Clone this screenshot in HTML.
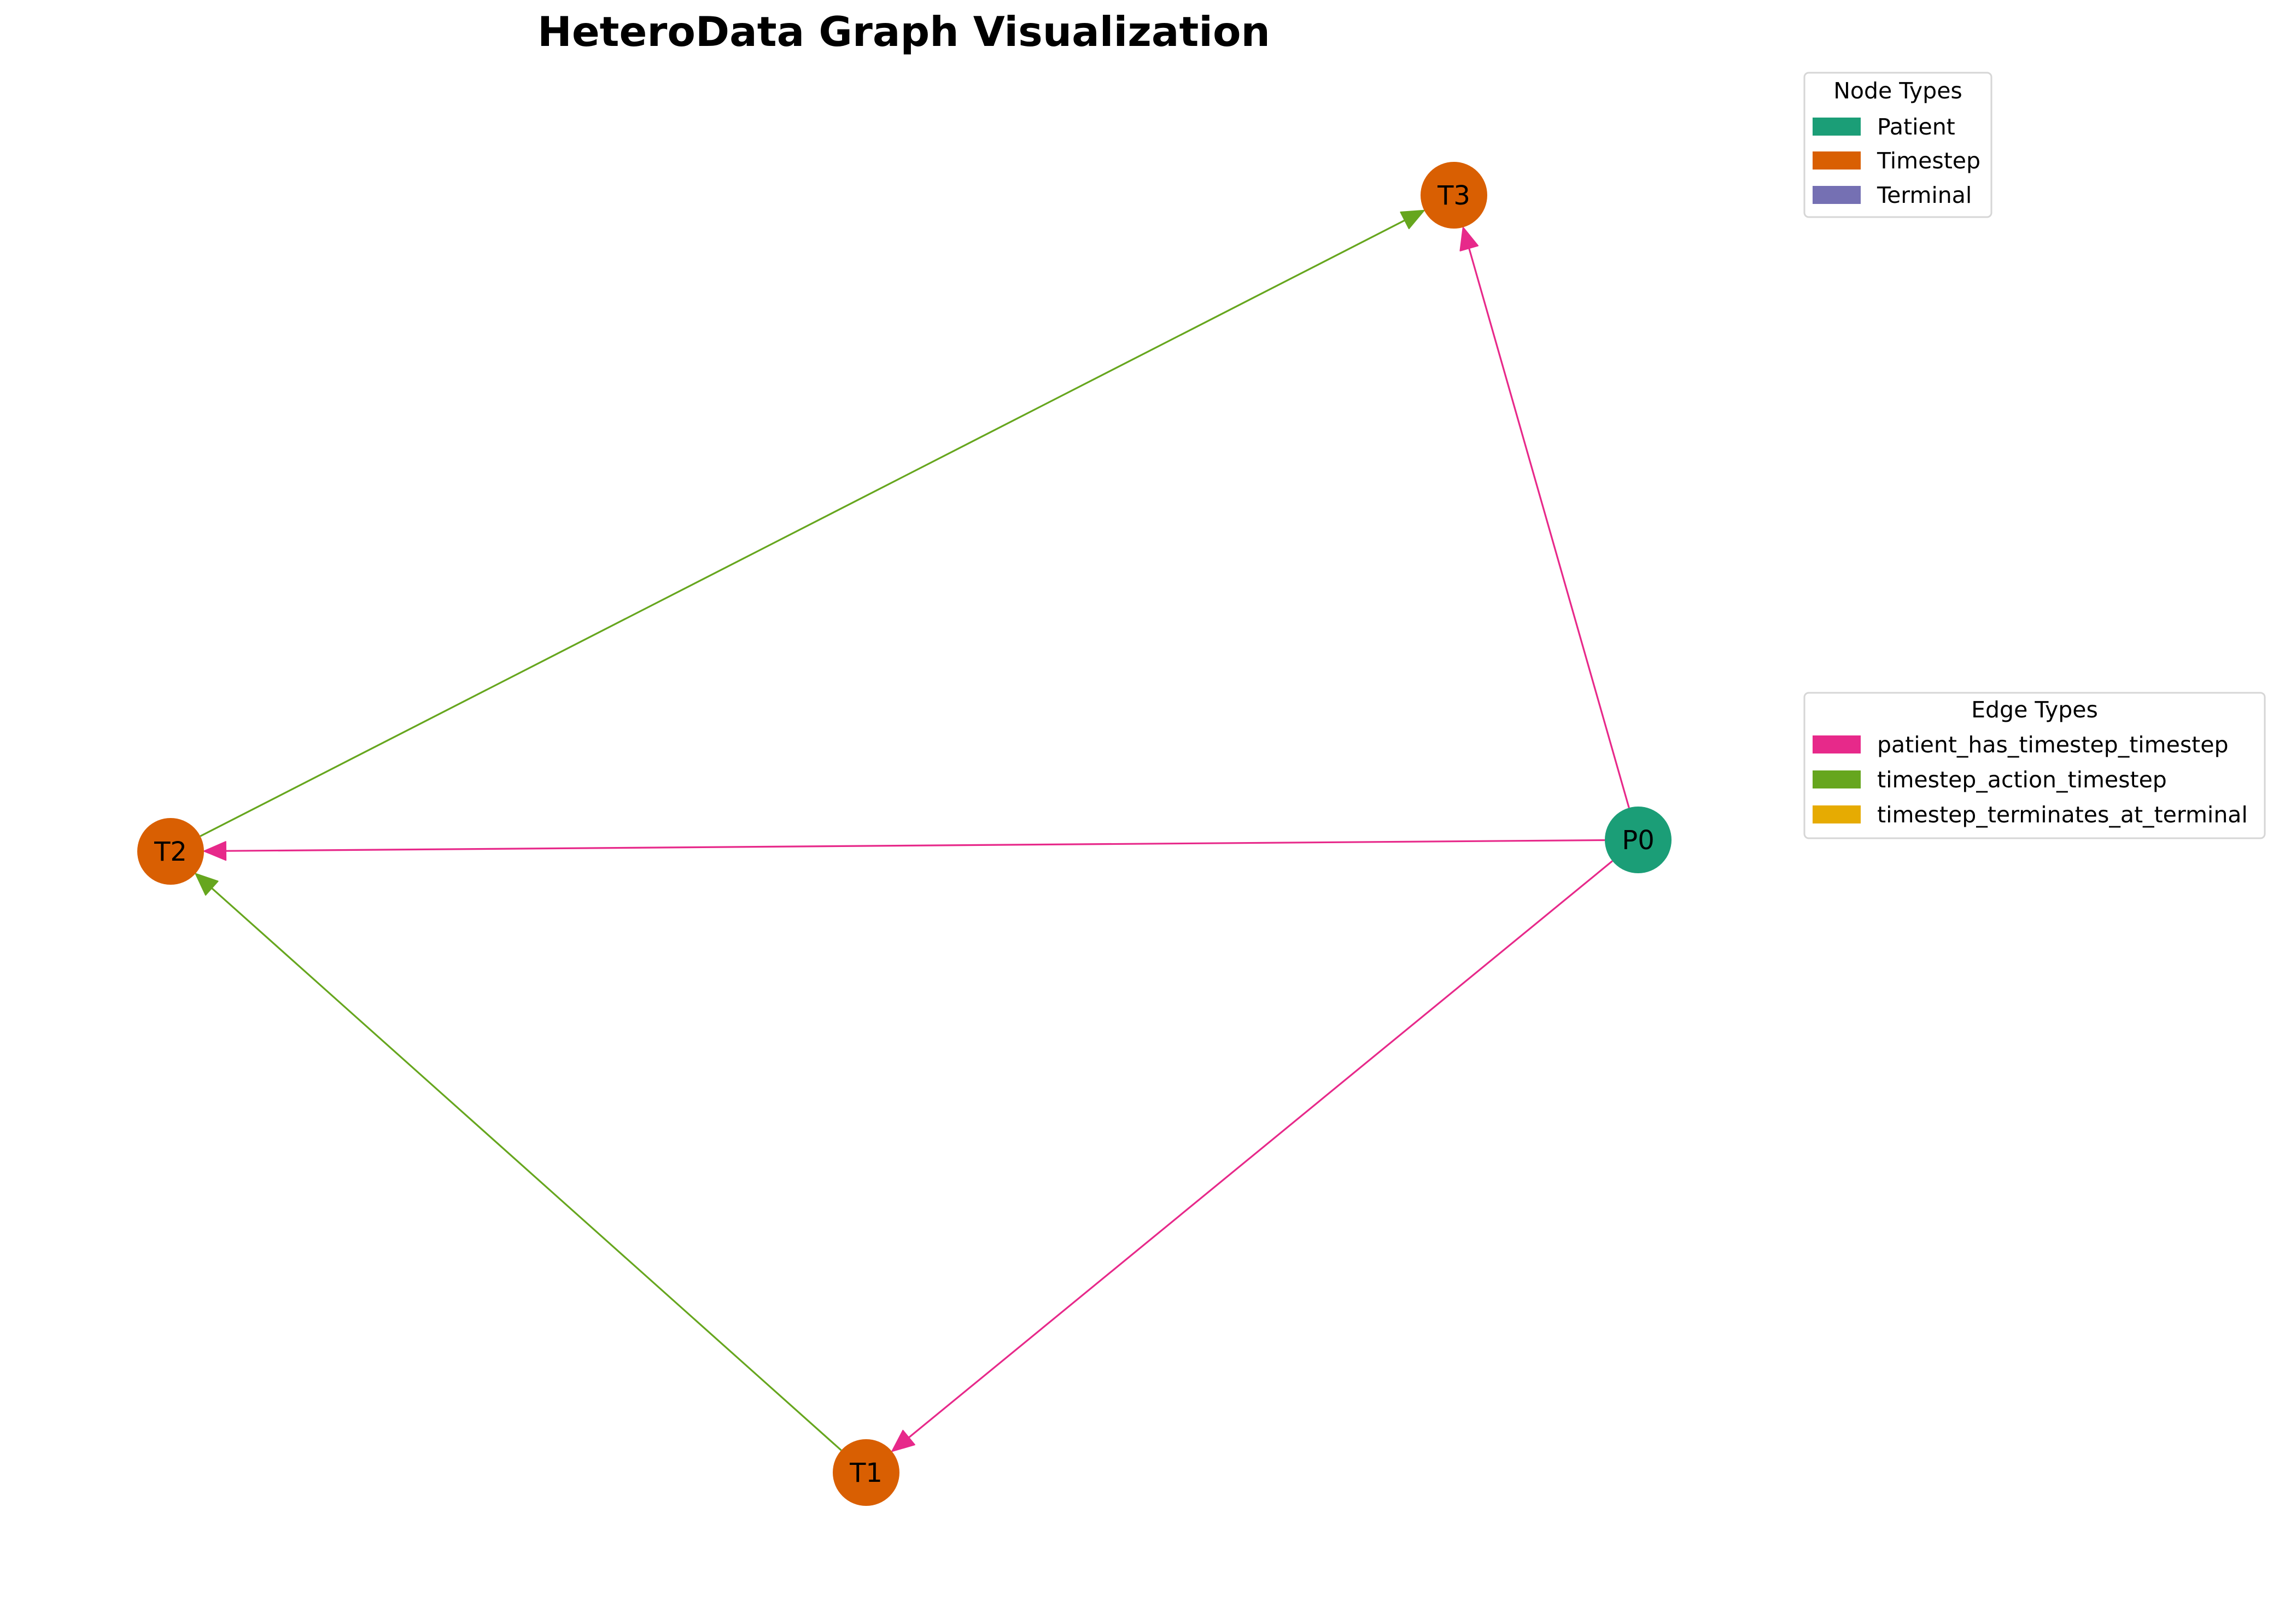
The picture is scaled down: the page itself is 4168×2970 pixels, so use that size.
<!DOCTYPE html>
<html><head><meta charset="utf-8"><style>
html,body{margin:0;padding:0;background:#fff;}
svg{display:block;font-family:"DejaVu Sans","Liberation Sans",sans-serif;}
</style></head><body>
<svg id="chart" width="4168" height="2970" viewBox="0 0 4168 2970">
<text x="1653" y="84" text-anchor="middle" font-size="75" font-weight="bold">HeteroData Graph Visualization</text>
<g id="edges"></g>
<g id="nodes"></g>
<g>
<rect x="3300" y="133" width="342" height="264" rx="8" fill="#fff" stroke="#d6d6d6" stroke-width="3"/>
<text x="3471" y="180" text-anchor="middle" font-size="41">Node Types</text>
<rect x="3315" y="215" width="88" height="33" fill="#1b9e77"/><text x="3433" y="246" font-size="41">Patient</text>
<rect x="3315" y="277" width="88" height="33" fill="#d95f02"/><text x="3433" y="308" font-size="41">Timestep</text>
<rect x="3315" y="340" width="88" height="33" fill="#7570b3"/><text x="3433" y="371" font-size="41">Terminal</text>
</g>
<g>
<rect x="3300" y="1267" width="842" height="266" rx="8" fill="#fff" stroke="#d6d6d6" stroke-width="3"/>
<text x="3721" y="1312" text-anchor="middle" font-size="41">Edge Types</text>
<rect x="3315" y="1345" width="88" height="33" fill="#e7298a"/><text x="3433" y="1376" font-size="41">patient_has_timestep_timestep</text>
<rect x="3315" y="1409" width="88" height="33" fill="#66a61e"/><text x="3433" y="1440" font-size="41">timestep_action_timestep</text>
<rect x="3315" y="1473" width="88" height="33" fill="#e6ab02"/><text x="3433" y="1504" font-size="41">timestep_terminates_at_terminal</text>
</g>
</svg>
<script>
const nodeNames = ["P0","T1","T2","T3"];
const nodeX = [2996,1584,312,2659];
const nodeY = [1536,2693,1557,357];
const nodeTypes = ["patient","timestep","timestep","timestep"];
const edgeSources = [0,0,0,2,1];
const edgeTargets = [3,2,1,3,2];
const edgeTypes = ["has","has","has","action","action"];
const ns="http://www.w3.org/2000/svg";
const typeColor={patient:"#1b9e77",timestep:"#d95f02",terminal:"#7570b3",has:"#e7298a",action:"#66a61e",term:"#e6ab02"};
const R=61, AL=40, AW=17;
const eg=document.getElementById('edges'), ng=document.getElementById('nodes');
for(let i=0;i<edgeSources.length;i++){
  const s=edgeSources[i], t=edgeTargets[i];
  const x1=nodeX[s],y1=nodeY[s],x2=nodeX[t],y2=nodeY[t];
  const dx=x2-x1, dy=y2-y1, L=Math.hypot(dx,dy), ux=dx/L, uy=dy/L;
  const sx=x1+ux*R, sy=y1+uy*R, tx=x2-ux*R, ty=y2-uy*R;
  const bx=tx-ux*AL, by=ty-uy*AL;
  const c=typeColor[edgeTypes[i]];
  const g=document.createElementNS(ns,'g');
  
  
  const l=document.createElementNS(ns,'line');
  l.setAttribute('x1',sx);l.setAttribute('y1',sy);l.setAttribute('x2',bx);l.setAttribute('y2',by);
  l.setAttribute('stroke',c);l.setAttribute('stroke-width',3.2);
  const p=document.createElementNS(ns,'polygon');
  p.setAttribute('points',`${tx},${ty} ${bx-uy*AW},${by+ux*AW} ${bx+uy*AW},${by-ux*AW}`);
  p.setAttribute('fill',c);p.setAttribute('stroke',c);p.setAttribute('stroke-linejoin','round');p.setAttribute('stroke-width',2);
  g.appendChild(l);g.appendChild(p);eg.appendChild(g);
}
for(let i=0;i<nodeNames.length;i++){
  const g=document.createElementNS(ns,'g');
  
  
  const c=document.createElementNS(ns,'circle');
  c.setAttribute('cx',nodeX[i]);c.setAttribute('cy',nodeY[i]);c.setAttribute('r',R);
  c.setAttribute('fill',typeColor[nodeTypes[i]]);
  const t=document.createElementNS(ns,'text');
  t.setAttribute('x',nodeX[i]);t.setAttribute('y',nodeY[i]+17);
  t.setAttribute('text-anchor','middle');t.setAttribute('font-size','48');
  t.textContent=nodeNames[i];
  g.appendChild(c);g.appendChild(t);ng.appendChild(g);
}
</script>
</body></html>
